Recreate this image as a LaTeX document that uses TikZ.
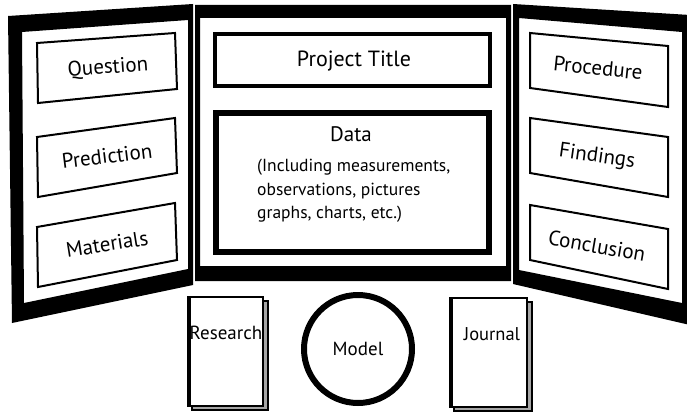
\documentclass[tikz,border=0pt]{standalone}
\usepackage{fontspec}
\setmainfont{PT Sans}
\begin{document}
\begin{tikzpicture}[x=1pt,y=-1pt,
  card/.style={draw=black, line width=2pt, fill=white, line join=miter},
  lbl/.style={font=\fontsize{21}{24}\selectfont, inner sep=0pt},
  small/.style={font=\fontsize{17.5}{23.5}\selectfont, inner sep=0pt, align=left},
  booklbl/.style={font=\fontsize{18.5}{20}\selectfont, inner sep=0pt},
  book/.style={draw=black, line width=2pt, fill=white},
  bookback/.style={draw=black, line width=1.5pt, fill=black!35}]
\useasboundingbox (0,0) rectangle (687,412);
\fill[white] (0,0) rectangle (687,412);
\clip (0,0) rectangle (687,412);
% panels
\fill[black, even odd rule] (8,16) -- (193,4) -- (193,285) -- (12,323) -- cycle
  (22,32) -- (188,20) -- (188,269) -- (24,303) -- cycle;
\fill[black, even odd rule] (195,5) rectangle (511,281) (200,18) rectangle (506,266);
\fill[black, even odd rule] (513,4) -- (690,15) -- (690,325) -- (513,284) -- cycle
  (519,18) -- (682,32) -- (682,303) -- (519,270) -- cycle;
% left cards
\draw[card] (37,43) -- (175,33) -- (177,89) -- (38,103) -- cycle;
\draw[card] (37,137) -- (175,118) -- (177,173) -- (38,197) -- cycle;
\draw[card] (37,227) -- (175,203) -- (177,260) -- (38,287) -- cycle;
\node[lbl, rotate=4] (question) at (108,68) {Question};
\node[lbl, rotate=7] (prediction) at (107,156) {Prediction};
\node[lbl, rotate=9] (materials) at (107,244) {Materials};
% right cards
\draw[card] (530,33) -- (668,46) -- (668,107) -- (530,88) -- cycle;
\draw[card] (530,118) -- (668,137) -- (668,197) -- (530,173) -- cycle;
\draw[card] (530,205) -- (668,229) -- (668,289) -- (530,260) -- cycle;
\node[lbl, rotate=-6] (procedure) at (598,68) {Procedure};
\node[lbl, rotate=-8] (findings) at (597,157) {Findings};
\node[lbl, rotate=-10] (conclusion) at (597,246) {Conclusion};
% center cards
\draw[black, line width=4pt, fill=white] (215,34) rectangle (490,86);
\node[lbl, font=\fontsize{22}{24}\selectfont] (title) at (354,61) {Project Title};
\draw[black, line width=6pt, fill=white] (216,113) rectangle (489,252);
\node[lbl] (data) at (351,134) {Data};
\node[small, anchor=north west] (datatext) at (257,159)
  {(Including measurements,\\observations, pictures\\graphs, charts, etc.)};
% books
\draw[bookback] (192,301) rectangle (268,410);
\draw[book] (188,297) rectangle (263,406);
\draw[black, line width=3.5pt] (189,297) -- (189,406);
\node[booklbl, font=\fontsize{19}{20}\selectfont] (research) at (226,333) {Research};
\draw[bookback] (454,302) rectangle (532,411);
\draw[book] (450,298) rectangle (527,407);
\draw[black, line width=3.5pt] (451,298) -- (451,407);
\node[booklbl] (journal) at (492,334) {Journal};
% model
\node[circle, draw=black, line width=6pt, minimum size=108pt, inner sep=0pt,
      font=\fontsize{19}{20}\selectfont] (model) at (358,349) {Model};
\end{tikzpicture}
\end{document}
